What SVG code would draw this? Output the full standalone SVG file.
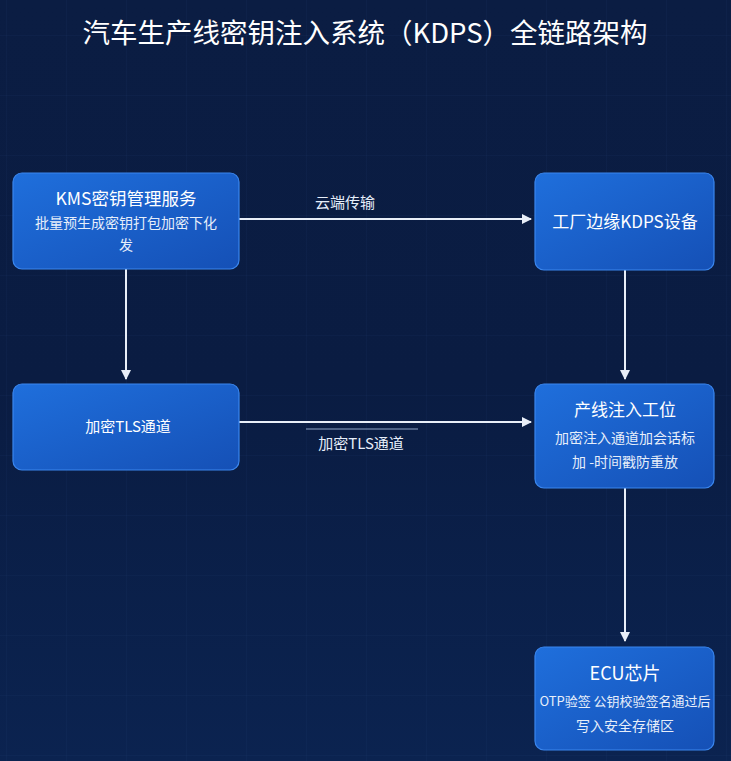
<svg xmlns="http://www.w3.org/2000/svg" width="731" height="761" viewBox="0 0 731 761">
<defs>
<linearGradient id="bg" x1="0" y1="0" x2="0" y2="1">
<stop offset="0" stop-color="#0b1d43"/>
<stop offset="0.5" stop-color="#0a1c42"/>
<stop offset="1" stop-color="#0b2350"/>
</linearGradient>
<linearGradient id="nodeFill" x1="0" y1="0" x2="1" y2="1">
<stop offset="0" stop-color="#1f6fdc"/>
<stop offset="1" stop-color="#1550b6"/>
</linearGradient>
<pattern id="grid" width="60" height="60" patternUnits="userSpaceOnUse" x="6" y="35">
<path d="M60 0 L0 0 0 60" fill="none" stroke="#2a4a80" stroke-width="1" stroke-opacity="0.18"/>
</pattern>
<marker id="arrow" viewBox="0 0 10 10" refX="9" refY="5" markerWidth="10" markerHeight="10" markerUnits="userSpaceOnUse" orient="auto">
<path d="M0 0 L10 5 L0 10 z" fill="#e8eef8"/>
</marker>
<style>
.node rect{fill:url(#nodeFill);stroke:#3a86ee;stroke-width:1.2}
.t{font-family:"Noto Sans CJK SC","Noto Sans",sans-serif;fill:#ffffff;text-anchor:middle}
.h{font-size:17.5px}
.s{font-size:14px;fill:#e6eefa}
.edge{stroke:#e8eef8;stroke-width:2;fill:none;marker-end:url(#arrow)}
.lbl{font-family:"Noto Sans CJK SC","Noto Sans",sans-serif;font-size:15px;fill:#e6eefa;text-anchor:middle}
</style>
</defs>
<rect width="731" height="761" fill="url(#bg)"/>
<rect width="731" height="761" fill="url(#grid)"/>
<text x="365" y="43" class="t" font-size="27.5">汽车生产线密钥注入系统（KDPS）全链路架构</text>
<g id="connectors">
<line class="edge" x1="239" y1="219" x2="531" y2="219"/>
<text class="lbl" x="345" y="208">云端传输</text>
<line class="edge" x1="126" y1="269" x2="126" y2="379"/>
<line class="edge" x1="625" y1="270" x2="625" y2="379"/>
<line class="edge" x1="239" y1="422" x2="531" y2="422"/>
<line x1="306" y1="429" x2="418" y2="429" stroke="#8fa6c8" stroke-width="1"/>
<text class="lbl" x="361" y="449">加密TLS通道</text>
<line class="edge" x1="625" y1="488" x2="625" y2="641"/>
</g>
<g id="kms" class="node">
<rect x="13" y="173" width="226" height="96" rx="9"/>
<text class="t h" x="126" y="205">KMS密钥管理服务</text>
<text class="t s" x="126" y="228">批量预生成密钥打包加密下化</text>
<text class="t s" x="126" y="250">发</text>
</g>
<g id="kdps" class="node">
<rect x="535" y="173" width="179" height="97" rx="9"/>
<text class="t" font-size="17" x="625" y="228">工厂边缘KDPS设备</text>
</g>
<g id="tls" class="node">
<rect x="13" y="384" width="226" height="86" rx="9"/>
<text class="t" font-size="15" x="128" y="432">加密TLS通道</text>
</g>
<g id="station" class="node">
<rect x="535" y="384" width="179" height="104" rx="9"/>
<text class="t" font-size="17" x="625" y="416">产线注入工位</text>
<text class="t s" x="625" y="443">加密注入通道加会话标</text>
<text class="t s" x="625" y="467">加 -时间戳防重放</text>
</g>
<g id="ecu" class="node">
<rect x="535" y="647" width="179" height="103" rx="9"/>
<text class="t" font-size="18" x="625" y="680">ECU芯片</text>
<text class="t s" font-size="13" x="625" y="706" style="font-size:13px">OTP验签 公钥校验签名通过后</text>
<text class="t s" x="625" y="731">写入安全存储区</text>
</g>
</svg>
